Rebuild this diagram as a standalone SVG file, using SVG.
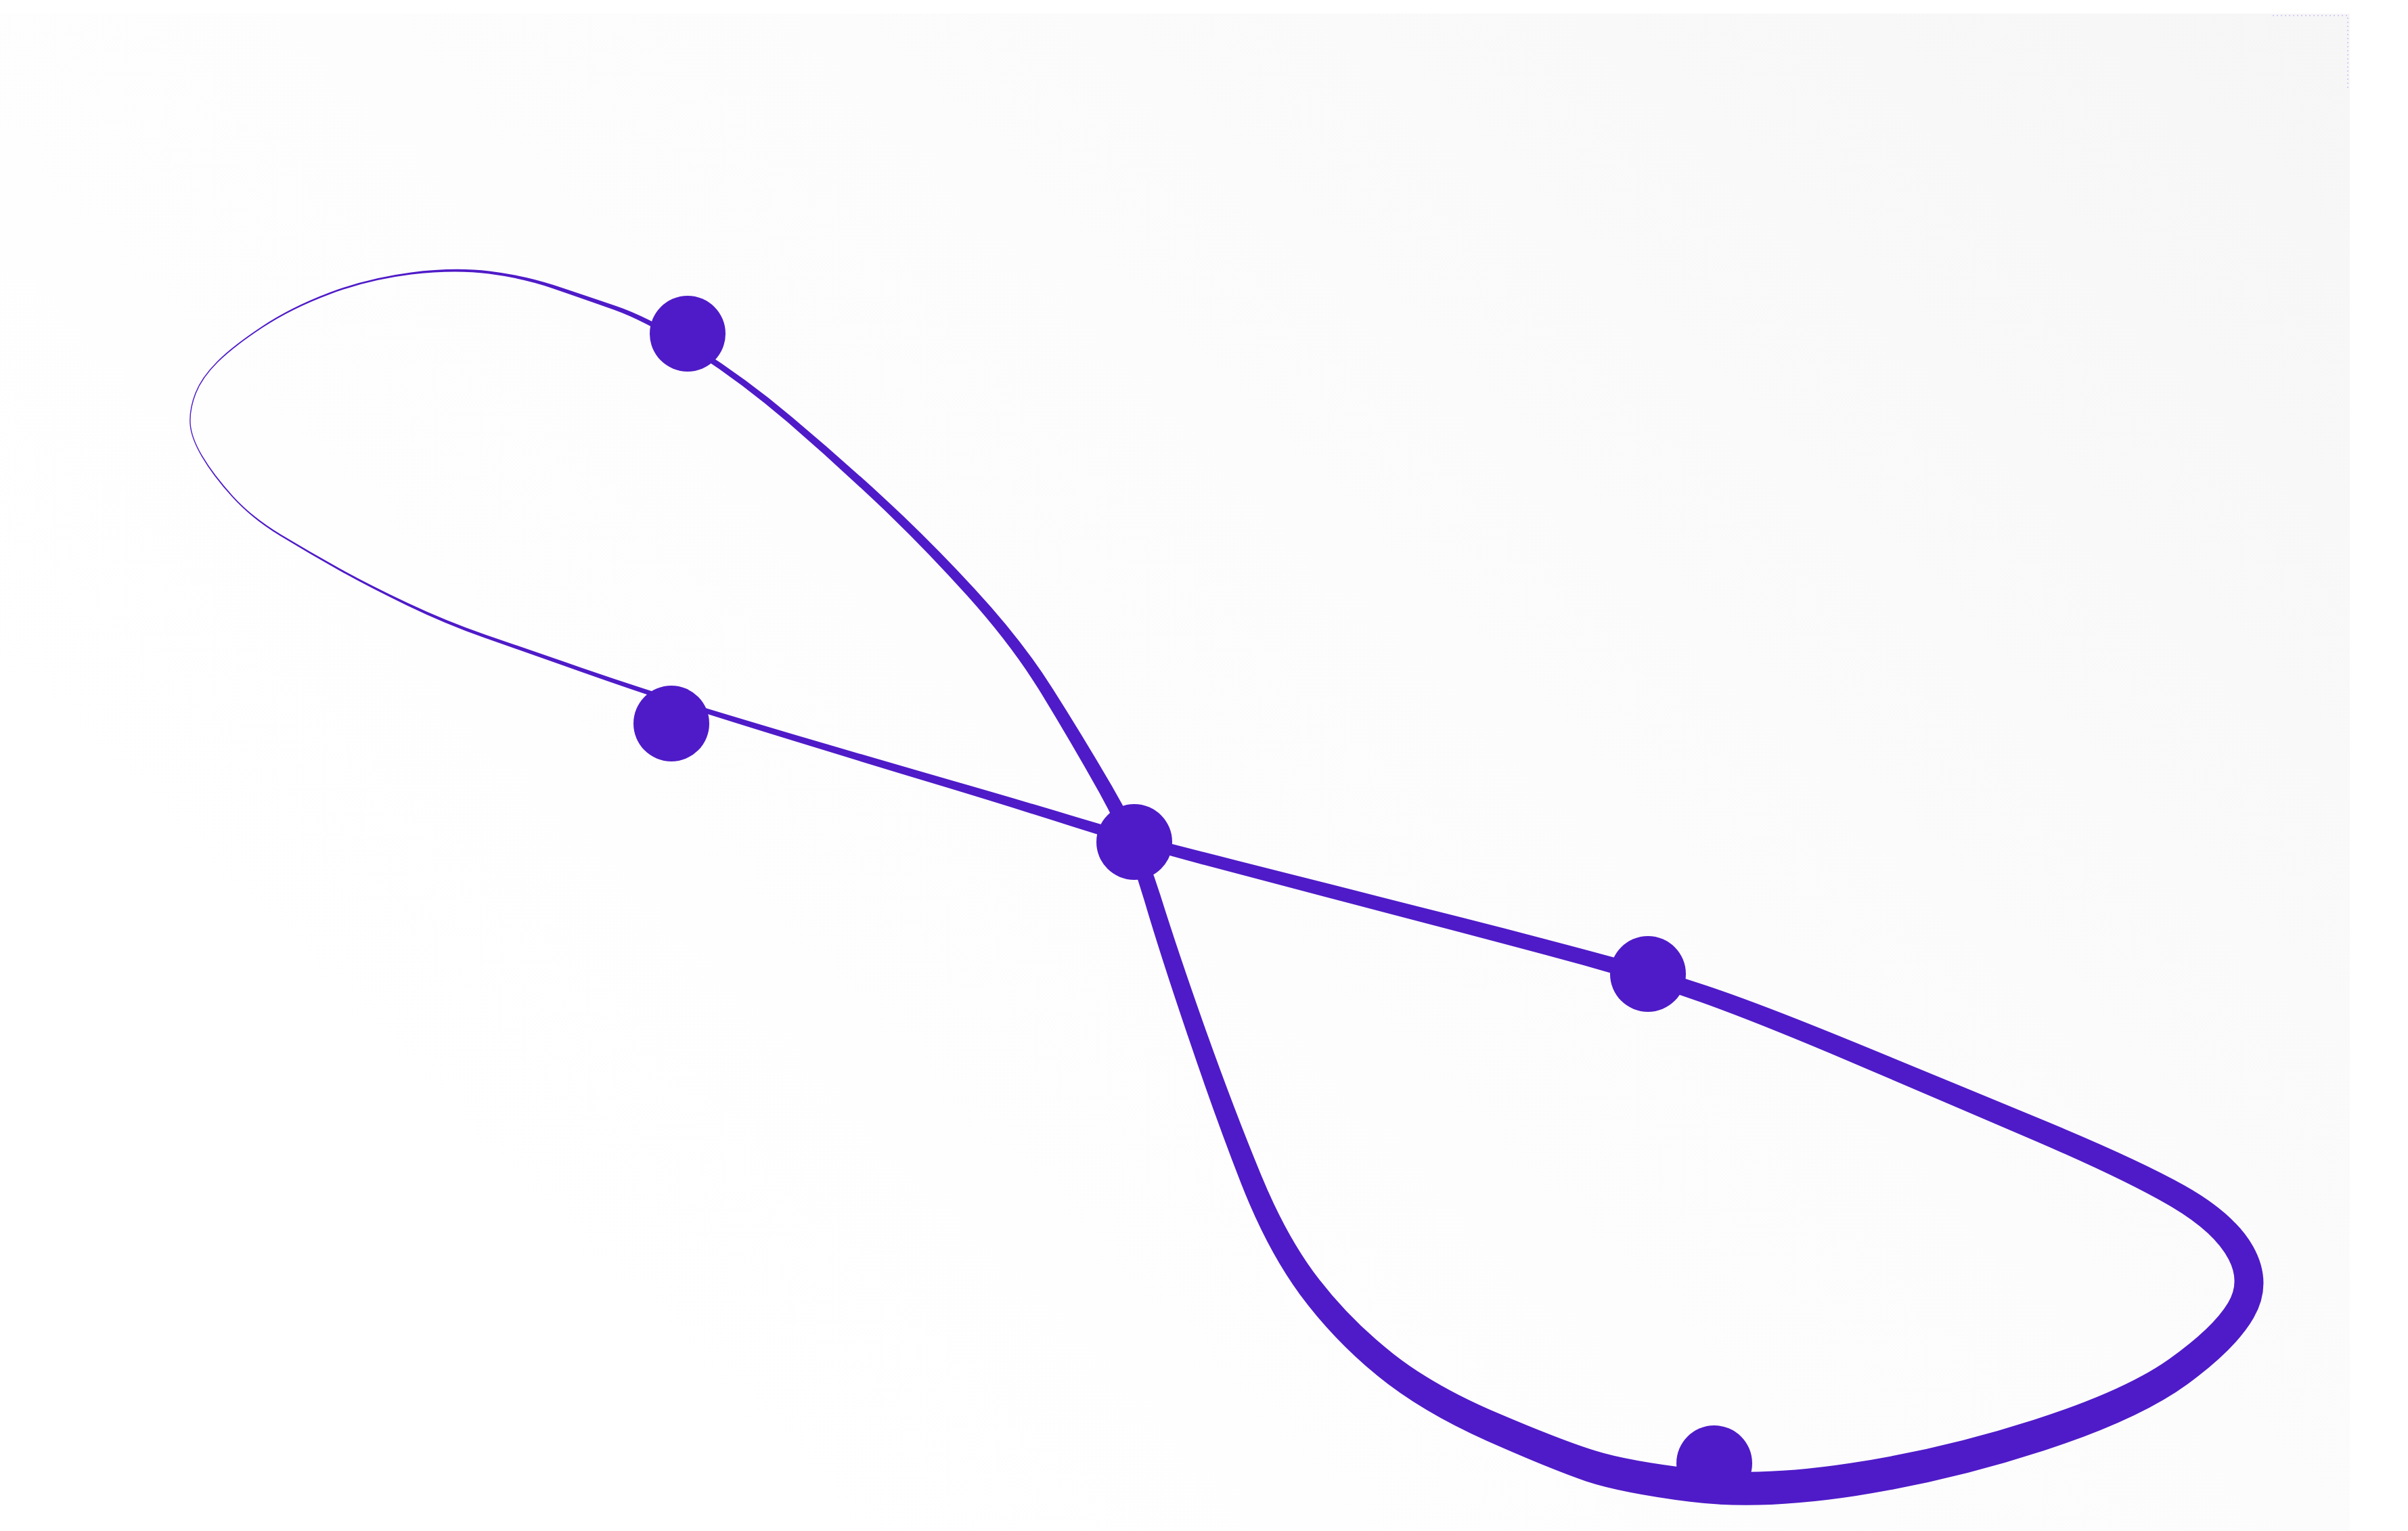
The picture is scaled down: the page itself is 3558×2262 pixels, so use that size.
<svg xmlns="http://www.w3.org/2000/svg" width="3558" height="2262" viewBox="0 0 3558 2262">
<defs>
<linearGradient id="bg" gradientUnits="userSpaceOnUse" x1="1200" y1="2262" x2="3472" y2="20">
<stop offset="0" stop-color="#ffffff"/>
<stop offset="0.5" stop-color="#fcfcfc"/>
<stop offset="1" stop-color="#f6f6f6"/>
</linearGradient>
<style>
.ribbon{fill:#4f1bc8;fill-rule:nonzero;stroke:none}
.dot{fill:#4f1bc8}
.sel{fill:none;stroke:#cdbdf6;stroke-width:1.5;stroke-dasharray:2 4}
</style>
</defs>
<rect x="0" y="0" width="3558" height="2262" fill="#ffffff"/>
<rect x="0" y="20" width="3472" height="2242" fill="url(#bg)"/>
<path class="sel" d="M3358 23 H3469 V133"/>
<g id="connectors">
<path class="ribbon" d="M1586.3 1221.7 Q1674.7 1249.9 1771.2 1275.7 L1775.8 1258.3 Q1679.3 1234.1 1590.7 1207.3Z
M1771.2 1275.7 Q1867.6 1301.2 1962.5 1326.2 L1967.5 1306.8 Q1872.4 1282.8 1775.8 1258.3Z
M1962.5 1326.2 Q2057.4 1351 2152.3 1375.9 L2157.7 1355.1 Q2062.6 1331 1967.5 1306.8Z
M2152.3 1375.9 Q2247.2 1400.8 2339.5 1426.1 L2345.5 1403.9 Q2252.8 1379.2 2157.7 1355.1Z
M2339.5 1426.1 Q2431.4 1451.7 2513.3 1480.8 L2521.7 1456.2 Q2438.6 1428.3 2345.5 1403.9Z
M2513.3 1480.8 Q2595.1 1509.9 2731.9 1567.9 L2743.1 1541.1 Q2604.9 1484.1 2521.7 1456.2Z
M2731.9 1567.9 Q2869 1626.3 3006.1 1685.2 L3018.9 1654.8 Q2881 1597.7 2743.1 1541.1Z
M3006.1 1685.2 Q3142.2 1743.8 3209.3 1783.5 L3227.8 1751.5 Q3157.8 1712.3 3018.9 1654.8Z
M3209.3 1783.5 Q3272.5 1821.1 3293 1860.8 L3329 1841.2 Q3301.5 1792.9 3227.8 1751.5Z
M3293 1860.8 Q3310.6 1894.6 3292 1924.9 L3330 1947.1 Q3359.4 1895.4 3329 1841.2Z
M3292 1924.9 Q3270 1961.5 3205 2007.9 L3232 2045.2 Q3304 1992.5 3330 1947.1Z
M3205 2007.9 Q3139.2 2054.8 3005.1 2097.7 L3019.9 2143.3 Q3160.8 2097.2 3232 2045.2Z
M3005.1 2097.7 Q2869.4 2141.3 2733.8 2161.8 L2741.2 2210.2 Q2880.6 2188.7 3019.9 2143.3Z
M2733.8 2161.8 Q2599.7 2182.3 2503 2170.2 L2497 2218.8 Q2600.3 2231.8 2741.2 2210.2Z
M2503 2170.2 Q2405.2 2158.5 2357.7 2143.6 L2343.3 2188.4 Q2394.8 2205.5 2497 2218.8Z
M2357.7 2143.6 Q2309.1 2128.7 2214.3 2088.3 L2196.7 2128.7 Q2293 2171.3 2343.3 2188.4Z
M2214.3 2088.3 Q2120.9 2048.9 2059 2000.4 L2034 2031.6 Q2099.1 2085.1 2196.7 2128.7Z
M2059 2000.4 Q1996.7 1951.7 1949.4 1890.6 L1920.6 1912.4 Q1969.3 1978.3 2034 2031.6Z
M1949.4 1890.6 Q1901.9 1829.6 1863.4 1736 L1833.6 1748 Q1872.1 1846.4 1920.6 1912.4Z
M1863.4 1736 Q1824.1 1640.8 1782.2 1523.4 L1755.8 1532.6 Q1795.9 1651.3 1833.6 1748Z
M1782.2 1523.4 Q1740.6 1405.9 1714.5 1322.4 L1690.5 1329.6 Q1715.4 1414.1 1755.8 1532.6Z
M1714.5 1322.4 Q1687.6 1237.4 1642.6 1160.8 L1624.4 1171.2 Q1666.4 1246.6 1690.5 1329.6Z
M1642.6 1160.8 Q1598.4 1085 1553.6 1014.7 L1538.4 1024.3 Q1581.6 1095 1624.4 1171.2Z
M1553.6 1014.7 Q1508.6 944 1440.5 870.4 L1429.5 880.6 Q1495.4 954 1538.4 1024.3Z
M1440.5 870.4 Q1372.9 797.2 1305.3 734.9 L1296.7 744.1 Q1363.1 806.8 1429.5 880.6Z
M1305.3 734.9 Q1237.7 672.8 1170.2 616.2 L1163.8 623.8 Q1230.3 681.2 1296.7 744.1Z
M1170.2 616.2 Q1102.7 559.4 1031.2 514.1 L1026.8 520.9 Q1097.3 566.6 1163.8 623.8Z
M1031.2 514.1 Q959.6 468.8 910 452.1 L908 457.9 Q956.4 475.2 1026.8 520.9Z
M910 452.1 Q860.9 435.4 817.8 421.1 L816.2 425.9 Q859.1 440.6 908 457.9Z
M817.8 421.1 Q774.5 406.8 722.75 400.5 L722.25 404.5 Q773.5 411.2 816.2 425.9Z
M722.75 400.5 Q671 394.2 607.3 402.4 L607.7 405.6 Q671 397.8 722.25 404.5Z
M607.3 402.4 Q543.7 410.6 486.6 432.3 L487.4 434.7 Q544.3 413.4 607.7 405.6Z
M486.6 432.3 Q429.5 454 386.4 482.7 L387.6 484.3 Q430.5 456 487.4 434.7Z
M386.4 482.7 Q343.4 511.3 320.4 534.4 L321.6 535.6 Q344.6 512.7 387.6 484.3Z
M320.4 534.4 Q297.3 557.6 288.3 580.7 L289.7 581.3 Q298.7 558.4 321.6 535.6Z
M288.3 580.7 Q279.3 603.9 280.3 625 L281.7 625 Q280.7 604.1 289.7 581.3Z
M280.3 625 Q281.3 646.2 297.9 674.4 L299.1 673.6 Q282.7 645.8 281.7 625Z
M297.9 674.4 Q314.3 702.5 342.8 734.1 L344.2 732.9 Q315.7 701.5 299.1 673.6Z
M342.8 734.1 Q371.3 765.8 414.4 792 L415.6 790 Q372.7 764.2 344.2 732.9Z
M414.4 792 Q457.3 818.1 500.3 842.3 L501.7 839.7 Q458.7 815.9 415.6 790Z
M500.3 842.3 Q543.2 866.5 600.7 894.2 L602.3 890.8 Q544.8 863.5 501.7 839.7Z
M600.7 894.2 Q658.2 922 715.7 942.3 L717.3 937.7 Q659.8 918 602.3 890.8Z
M715.7 942.3 Q773.1 962.5 859 992.8 L861 987.2 Q774.9 957.5 717.3 937.7Z
M859 992.8 Q944.9 1023.2 1021.9 1047.6 L1024.1 1040.4 Q947.1 1016.8 861 987.2Z
M1021.9 1047.6 Q1098.8 1072.1 1198.6 1102.6 L1201.4 1093.5 Q1101.2 1063.9 1024.1 1040.4Z
M1198.6 1102.6 Q1298.5 1133.2 1398.3 1163.3 L1401.7 1151.8 Q1301.5 1122.9 1201.4 1093.5Z
M1398.3 1163.3 Q1498 1193.5 1586.3 1221.7 L1590.7 1207.3 Q1502 1180.5 1401.7 1151.8Z"/>
</g>
<g id="node-1"><circle class="dot" cx="1016" cy="493" r="56"/></g>
<g id="node-2"><circle class="dot" cx="992" cy="1069" r="56"/></g>
<g id="node-3"><circle class="dot" cx="1676" cy="1244" r="56"/></g>
<g id="node-4"><circle class="dot" cx="2435" cy="1439" r="56"/></g>
<g id="node-5"><circle class="dot" cx="2533" cy="2162" r="56"/></g>
</svg>
